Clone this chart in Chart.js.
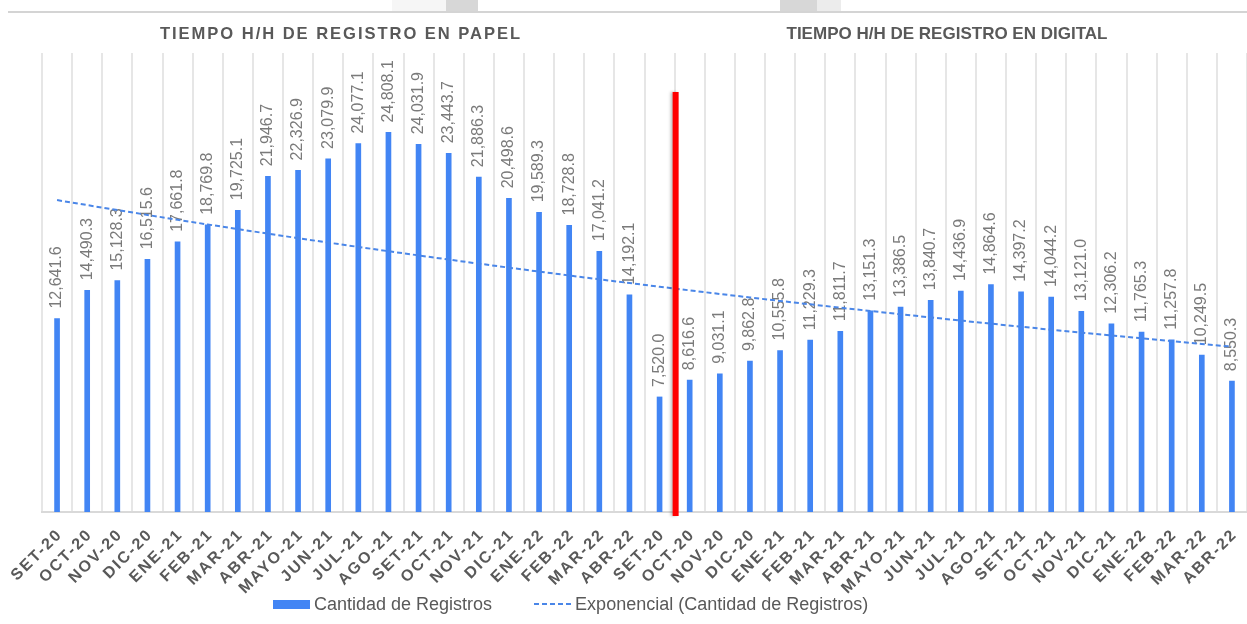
<!DOCTYPE html>
<html lang="es">
<head>
<meta charset="utf-8">
<title>Tiempo H/H de registro</title>
<script src="https://cdn.jsdelivr.net/npm/chart.js@4.4.0/dist/chart.umd.min.js"></script>
<style>
    html, body { margin: 0; padding: 0; background: #fff; }
    #wrap { position: relative; width: 1247px; height: 624px; overflow: hidden; }
    #leyenda {
        position: absolute; left: 273px; top: 594px; height: 20px;
        display: flex; align-items: center;
        font: 18px "Liberation Sans", Arial, sans-serif; color: #595959;
        white-space: nowrap;
    }
    .caja { width: 37px; height: 9px; background: #4285f4; margin-right: 4px; }
    .guion { width: 39px; height: 2px; margin-right: 2px;
        background: repeating-linear-gradient(to right, #4a86e8 0 5px, transparent 5px 8px); }
    .item { display: flex; align-items: center; margin-right: 42px; }
</style>
</head>
<body>
<div id="wrap">
    <canvas id="grafico" width="1247" height="624"></canvas>
    <div id="leyenda"></div>
</div>
<script>
const meses = [
    'SET-20', 'OCT-20', 'NOV-20', 'DIC-20', 'ENE-21', 'FEB-21', 'MAR-21', 'ABR-21', 'MAYO-21', 'JUN-21',
    'JUL-21', 'AGO-21', 'SET-21', 'OCT-21', 'NOV-21', 'DIC-21', 'ENE-22', 'FEB-22', 'MAR-22', 'ABR-22',
    'SET-20', 'OCT-20', 'NOV-20', 'DIC-20', 'ENE-21', 'FEB-21', 'MAR-21', 'ABR-21', 'MAYO-21', 'JUN-21',
    'JUL-21', 'AGO-21', 'SET-21', 'OCT-21', 'NOV-21', 'DIC-21', 'ENE-22', 'FEB-22', 'MAR-22', 'ABR-22'
];

const registros = [
    12641.6, 14490.3, 15128.3, 16515.6, 17661.8, 18769.8, 19725.1, 21946.7, 22326.9, 23079.9,
    24077.1, 24808.1, 24031.9, 23443.7, 21886.3, 20498.6, 19589.3, 18728.8, 17041.2, 14192.1,
    7520.0, 8616.6, 9031.1, 9862.8, 10555.8, 11229.3, 11811.7, 13151.3, 13386.5, 13840.7,
    14436.9, 14864.6, 14397.2, 14044.2, 13121.0, 12306.2, 11765.3, 11257.8, 10249.5, 8550.3
];

const tituloPapel = 'TIEMPO H/H DE REGISTRO EN PAPEL';
const tituloDigital = 'TIEMPO H/H DE REGISTRO EN DIGITAL';
const nombreSerie = 'Cantidad de Registros';
const nombreTendencia = 'Exponencial (Cantidad de Registros)';

// primer mes del registro digital (la linea roja va antes de este indice)
const indiceCorte = 21;

// linea de tendencia exponencial, el mismo ajuste que hace Excel: y = a * e^(b x)
function tendenciaExponencial(valores) {
    const n = valores.length;
    let sx = 0, sy = 0, sxx = 0, sxy = 0;
    valores.forEach((v, i) => {
        const x = i + 1, y = Math.log(v);
        sx += x; sy += y; sxx += x * x; sxy += x * y;
    });
    const b = (n * sxy - sx * sy) / (n * sxx - sx * sx);
    const a = Math.exp((sy - b * sx) / n);
    return valores.map((_, i) => a * Math.exp(b * (i + 1)));
}

const formato = new Intl.NumberFormat('en-US', { minimumFractionDigits: 1, maximumFractionDigits: 1 });
const fuente = '"Liberation Sans", Arial, sans-serif';

// texto centrado y ajustado a un ancho dado
function textoAjustado(ctx, texto, cx, cy, ancho, espaciado) {
    ctx.save();
    ctx.letterSpacing = espaciado + 'px';
    const w = ctx.measureText(texto).width;
    ctx.translate(cx, cy);
    ctx.scale(ancho / w, 1);
    ctx.textAlign = 'center';
    ctx.textBaseline = 'middle';
    ctx.fillText(texto, 0, 0);
    ctx.restore();
}

const decoracion = {
    id: 'decoracion',
    beforeDraw(chart) {
        const ctx = chart.ctx;
        ctx.save();
        // restos de la imagen superior
        ctx.fillStyle = '#f6f6f6';
        ctx.fillRect(392, 0, 54, 11);
        ctx.fillStyle = '#d7d7d7';
        ctx.fillRect(446, 0, 32, 11);
        ctx.fillRect(780, 0, 37, 11);
        ctx.fillStyle = '#ececec';
        ctx.fillRect(817, 0, 24, 11);
        ctx.strokeStyle = '#d4d4d4';
        ctx.lineWidth = 2;
        ctx.beginPath();
        ctx.moveTo(8, 12);
        ctx.lineTo(1247, 12);
        ctx.stroke();

        ctx.fillStyle = '#595959';
        ctx.font = 'bold 17px ' + fuente;
        textoAjustado(ctx, tituloPapel, 341, 34, 362, 2);
        textoAjustado(ctx, tituloDigital, 947, 34, 321, 0);
        ctx.restore();
    }
};

const etiquetasBarras = {
    id: 'etiquetasBarras',
    afterDatasetDraw(chart, args) {
        if (args.index !== 0) return;
        const ctx = chart.ctx;
        ctx.save();
        ctx.font = '16px ' + fuente;
        ctx.fillStyle = '#7a7a7a';
        ctx.textAlign = 'left';
        ctx.textBaseline = 'middle';
        args.meta.data.forEach((barra, i) => {
            ctx.save();
            ctx.translate(barra.x, barra.y - 10);
            ctx.rotate(-Math.PI / 2);
            ctx.fillText(formato.format(registros[i]), 0, 0);
            ctx.restore();
        });
        ctx.restore();
    }
};

const ejeMeses = {
    id: 'ejeMeses',
    afterDraw(chart) {
        const ctx = chart.ctx;
        const escala = chart.scales.x;
        ctx.save();
        ctx.font = 'bold 16px ' + fuente;
        ctx.fillStyle = '#595959';
        ctx.letterSpacing = '2px';
        ctx.textAlign = 'right';
        ctx.textBaseline = 'middle';
        chart.data.labels.forEach((mes, i) => {
            ctx.save();
            ctx.translate(escala.getPixelForTick(i) + 3, escala.top + 20);
            ctx.rotate(-Math.PI / 4);
            ctx.fillText(mes, 0, 0);
            ctx.restore();
        });
        ctx.restore();
    }
};

const lineaCorte = {
    id: 'lineaCorte',
    afterDraw(chart) {
        const ctx = chart.ctx;
        const escala = chart.scales.x;
        const x = (escala.getPixelForTick(indiceCorte - 1) + escala.getPixelForTick(indiceCorte)) / 2 + 1;
        ctx.save();
        ctx.shadowColor = 'rgba(0, 0, 0, 0.25)';
        ctx.shadowBlur = 3;
        ctx.shadowOffsetX = -2;
        ctx.fillStyle = '#ff0000';
        ctx.fillRect(x - 3, 92, 6, chart.chartArea.bottom + 4 - 92);
        ctx.restore();
    }
};

const grafico = new Chart(document.getElementById('grafico'), {
    type: 'bar',
    data: {
        labels: meses,
        datasets: [
            {
                label: nombreSerie,
                data: registros,
                backgroundColor: '#4285f4',
                borderWidth: 0,
                barThickness: 5,
                order: 2
            },
            {
                type: 'line',
                label: nombreTendencia,
                data: tendenciaExponencial(registros),
                borderColor: '#4a86e8',
                borderWidth: 2,
                borderDash: [5, 3],
                pointRadius: 0,
                fill: false,
                tension: 0,
                order: 1
            }
        ]
    },
    options: {
        responsive: false,
        animation: false,
        layout: {
            padding: { left: 42, right: 0, top: 53, bottom: 32 }
        },
        plugins: {
            legend: { display: false },
            tooltip: { enabled: false }
        },
        scales: {
            x: {
                offset: true,
                grid: { offset: true, color: '#e6e6e6', lineWidth: 2, drawTicks: false },
                border: { color: '#d9d9d9', width: 2 },
                ticks: { display: false },
                afterFit(escala) {
                    escala.paddingLeft = 0;
                    escala.paddingRight = 0;
                    escala.height = 80;
                }
            },
            y: {
                display: false,
                min: 0,
                max: 30000
            }
        }
    },
    plugins: [decoracion, etiquetasBarras, ejeMeses, lineaCorte]
});

// leyenda en HTML, tomada de los datasets
const leyenda = document.getElementById('leyenda');
grafico.data.datasets.forEach((ds, i) => {
    const item = document.createElement('div');
    item.className = 'item';
    const simbolo = document.createElement('div');
    simbolo.className = i === 0 ? 'caja' : 'guion';
    const texto = document.createElement('span');
    texto.textContent = ds.label;
    item.appendChild(simbolo);
    item.appendChild(texto);
    leyenda.appendChild(item);
});
</script>
</body>
</html>
